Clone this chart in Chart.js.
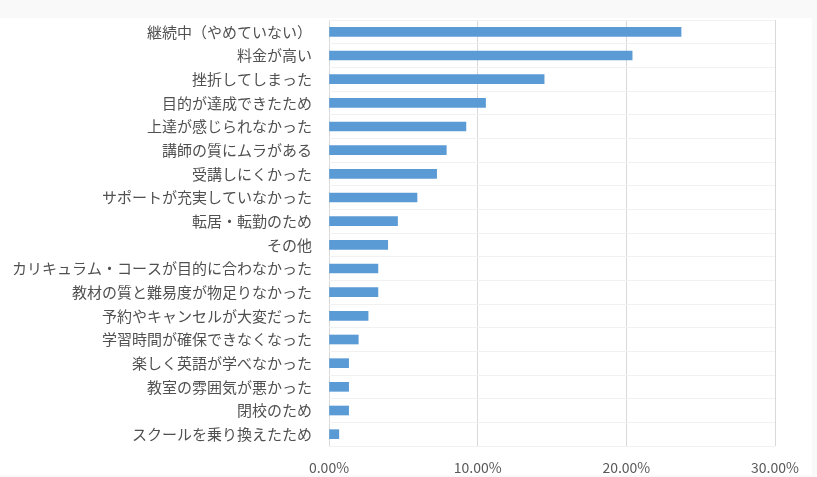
<!DOCTYPE html>
<html>
<head>
<meta charset="utf-8">
<script src="https://cdn.jsdelivr.net/npm/chart.js@4"></script>
<style>
  html, body { margin: 0; padding: 0; background: #f9f9f9; }
  #wrap { position: relative; width: 817px; height: 477px; }
  #paper { position: absolute; left: 0; top: 18px; width: 812px; height: 457px; background: #ffffff; }
  #chart { position: absolute; left: 0; top: 0; }
</style>
</head>
<body>
<div id="wrap">
  <div id="paper"></div>
  <canvas id="chart" width="817" height="477"></canvas>
</div>
<script>
// 中断理由（割合 %）
var reasons = [
    '継続中（やめていない）',
    '料金が高い',
    '挫折してしまった',
    '目的が達成できたため',
    '上達が感じられなかった',
    '講師の質にムラがある',
    '受講しにくかった',
    'サポートが充実していなかった',
    '転居・転勤のため',
    'その他',
    'カリキュラム・コースが目的に合わなかった',
    '教材の質と難易度が物足りなかった',
    '予約やキャンセルが大変だった',
    '学習時間が確保できなくなった',
    '楽しく英語が学べなかった',
    '教室の雰囲気が悪かった',
    '閉校のため',
    'スクールを乗り換えたため'
];
var shares = [23.68, 20.39, 14.47, 10.53, 9.21, 7.89, 7.24, 5.92, 4.61, 3.95, 3.29, 3.29, 2.63, 1.97, 1.32, 1.32, 1.32, 0.66];
var xTicks = [0, 10, 20, 30];

var textColor = '#505050';

function iniciarGrafico() {
    var ctx = document.getElementById('chart').getContext('2d');
    new Chart(ctx, {
        type: 'bar',
        data: {
            labels: reasons,
            datasets: [{
                data: shares,
                backgroundColor: '#5b9bd5',
                borderWidth: 0,
                barThickness: 9
            }]
        },
        options: {
            indexAxis: 'y',
            responsive: false,
            animation: false,
            layout: { padding: { top: 20, right: 42, bottom: 0, left: 0 } },
            plugins: { legend: { display: false }, tooltip: { enabled: false } },
            scales: {
                x: {
                    min: 0,
                    max: 30,
                    afterBuildTicks: function (scale) {
                        scale.ticks = xTicks.map(function (v) { return { value: v }; });
                    },
                    afterFit: function (scale) { scale.height = 31; },
                    grid: { color: '#d9d9d9', drawTicks: false },
                    border: { display: false },
                    ticks: {
                        padding: 13,
                        color: '#595959',
                        font: { family: 'Noto Sans CJK JP', size: 14 },
                        callback: function (v) { return v.toFixed(2) + '%'; }
                    }
                },
                y: {
                    afterFit: function (scale) {
                        scale.width = 329;
                        scale.paddingTop = 0;
                        scale.paddingBottom = 0;
                    },
                    grid: { color: '#f1f1f1', drawTicks: false },
                    border: { display: false },
                    ticks: {
                        padding: 17,
                        autoSkip: false,
                        color: textColor,
                        font: { family: 'Noto Sans CJK JP', size: 15 }
                    }
                }
            }
        }
    });
}

iniciarGrafico();
</script>
</body>
</html>
